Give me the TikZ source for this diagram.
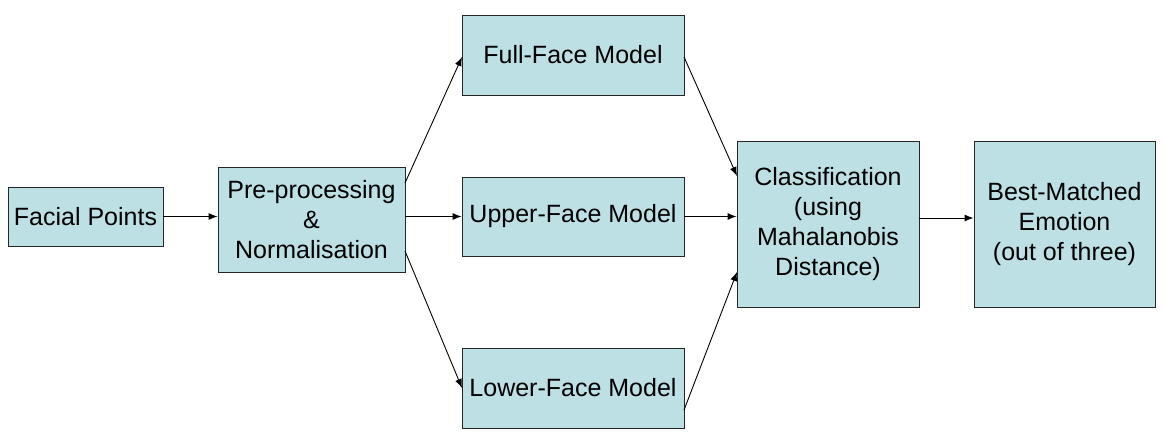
\documentclass[tikz,border=0pt]{standalone}
\usepackage{fontspec}
\setmainfont{Liberation Sans}
\usetikzlibrary{arrows.meta}
\definecolor{boxfill}{HTML}{BDE0E4}
\begin{document}
\begin{tikzpicture}[x=1pt,y=-1pt,
  box/.style={draw=black!85,fill=boxfill,line width=0.9pt,align=center,
    font=\fontsize{25}{30}\selectfont,inner sep=0pt},
  arr/.style={line width=0.9pt,-{Latex[length=9pt,width=7pt]}}]
\useasboundingbox (0,0) rectangle (1165,445);
\node[box,minimum width=155pt,minimum height=59pt] (fp) at (85.5,216.5) {Facial Points};
\node[box,minimum width=187pt,minimum height=105pt] (pre) at (311.5,219.5) {Pre-processing\\\&\\Normalisation};
\node[box,minimum width=222pt,minimum height=80pt] (full) at (573,55) {Full-Face Model};
\node[box,minimum width=222pt,minimum height=79pt] (upper) at (573,216.5) {Upper-Face Model};
\node[box,minimum width=222pt,minimum height=80pt] (lower) at (573,388) {Lower-Face Model};
\node[box,minimum width=182pt,minimum height=166pt] (cls) at (828,224) {Classification\\(using\\Mahalanobis\\Distance)};
\node[box,minimum width=181pt,minimum height=166pt] (best) at (1064.5,224) {Best-Matched\\Emotion\\(out of three)};
\coordinate (preA) at (405,183);
\coordinate (preB) at (405,251);
\coordinate (fullIn) at (462,57);
\coordinate (lowerIn) at (462,388);
\coordinate (fullOut) at (684,57);
\coordinate (lowerOut) at (684,410);
\coordinate (clsA) at (737,176);
\coordinate (clsB) at (737,272);
\draw[arr] (fp.east) -- (pre.west |- fp.east);
\draw[arr] (preA) -- (fullIn);
\draw[arr] (pre.east |- upper.west) -- (upper.west);
\draw[arr] (preB) -- (lowerIn);
\draw[arr] (fullOut) -- (clsA);
\draw[arr] (upper.east) -- (cls.west |- upper.east);
\draw[arr] (lowerOut) -- (clsB);
\draw[arr] (cls.east |- 0,218) -- (best.west |- 0,218);
\end{tikzpicture}
\end{document}
